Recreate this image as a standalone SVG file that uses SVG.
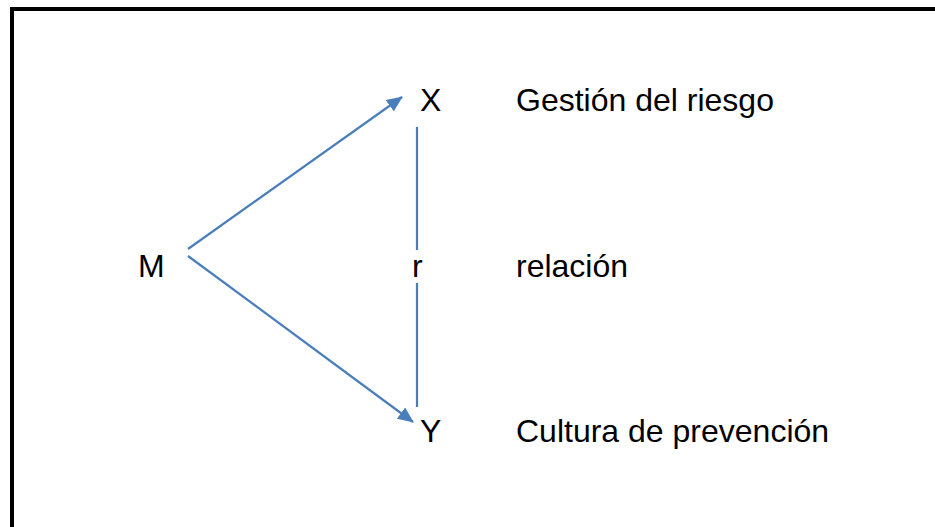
<svg xmlns="http://www.w3.org/2000/svg" width="935" height="527" viewBox="0 0 935 527">
<style>
.t{font-family:"Liberation Sans",Arial,sans-serif;font-size:32px;fill:#000}
.c{stroke:#4A7EBB;stroke-width:2.2;fill:none}
</style>
<defs>
<marker id="ah" markerWidth="16" markerHeight="14" refX="15" refY="7" orient="auto" markerUnits="userSpaceOnUse" viewBox="0 0 16 14">
<path d="M0,0 L16,7 L0,14 z" fill="#4A7EBB"/>
</marker>
</defs>
<rect x="0" y="0" width="935" height="527" fill="#fff"/>
<rect x="12" y="9" width="940" height="540" fill="none" stroke="#000" stroke-width="4"/>
<g id="connectors">
<line class="c" x1="188" y1="249" x2="402" y2="97" marker-end="url(#ah)"/>
<line class="c" x1="188" y1="256" x2="413" y2="422" marker-end="url(#ah)"/>
<line class="c" x1="417" y1="127" x2="417" y2="250"/>
<line class="c" x1="417" y1="283" x2="417" y2="407"/>
</g>
<g id="M"><text class="t" x="138" y="277">M</text></g>
<g id="X"><text class="t" x="420" y="111">X</text></g>
<g id="Y"><text class="t" x="420" y="442">Y</text></g>
<g id="r"><text class="t" x="412" y="277">r</text></g>
<g id="labels">
<text class="t" x="516" y="111">Gestión del riesgo</text>
<text class="t" x="516" y="277">relación</text>
<text class="t" x="516" y="442">Cultura de prevención</text>
</g>
</svg>
